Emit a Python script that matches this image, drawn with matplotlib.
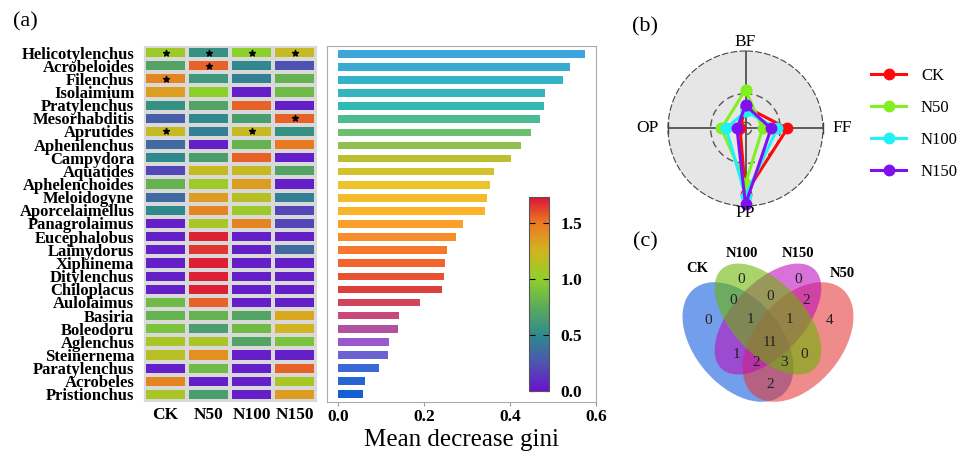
import numpy as np
import matplotlib
matplotlib.use('Agg')
import matplotlib.pyplot as plt
from matplotlib.colors import LinearSegmentedColormap, Normalize
from matplotlib.cm import ScalarMappable
from matplotlib.patches import Ellipse

plt.rcParams['font.family'] = 'serif'
plt.rcParams['font.serif'] = ['Liberation Serif', 'DejaVu Serif']

# ---- data ----
genera = ['Helicotylenchus', 'Acrobeloides', 'Filenchus', 'Isolaimium', 'Pratylenchus',
          'Mesorhabditis', 'Aprutides', 'Aphenlenchus', 'Campydora', 'Aquatides',
          'Aphelenchoides', 'Meloidogyne', 'Aporcelaimellus', 'Panagrolaimus',
          'Eucephalobus', 'Laimydorus', 'Xiphinema', 'Ditylenchus', 'Chiloplacus',
          'Aulolaimus', 'Basiria', 'Boleodoru', 'Aglenchus', 'Steinernema',
          'Paratylenchus', 'Acrobeles', 'Pristionchus']
groups = ['CK', 'N50', 'N100', 'N150']
heat_ck = [1.05, 0.70, 1.45, 1.35, 0.55, 0.30, 1.20, 0.35, 0.50, 0.20, 0.80, 0.35, 0.50, 0.05,
           0.05, 0.05, 0.05, 0.05, 0.05, 0.85, 0.80, 0.90, 1.10, 1.15, 0.05, 1.45, 1.10]
heat_n50 = [0.55, 1.55, 0.60, 1.00, 0.70, 0.50, 0.45, 0.05, 0.65, 1.20, 1.05, 1.35, 1.45, 1.10,
            1.70, 1.65, 1.70, 1.70, 1.70, 1.55, 0.80, 0.65, 1.10, 1.40, 0.85, 0.05, 0.65]
heat_n100 = [1.00, 0.50, 0.45, 0.05, 1.55, 0.65, 1.20, 0.80, 1.55, 1.20, 1.35, 1.15, 1.05, 1.45,
             0.05, 0.05, 0.05, 0.05, 0.05, 0.05, 0.70, 0.85, 0.70, 0.05, 0.05, 0.05, 0.05]
heat_n150 = [1.20, 0.25, 0.80, 0.85, 0.05, 1.55, 0.55, 1.50, 0.05, 0.70, 0.05, 0.45, 0.20, 0.20,
             0.05, 0.35, 0.05, 0.05, 0.05, 0.05, 1.30, 1.25, 0.90, 0.05, 1.55, 1.10, 1.35]
star_rows = [0, 0, 0, 0, 1, 2, 5, 6, 6]
star_cols = [0, 1, 2, 3, 1, 0, 3, 0, 2]
gini = [0.574, 0.539, 0.524, 0.481, 0.478, 0.469, 0.449, 0.426, 0.403, 0.363, 0.353, 0.347,
        0.341, 0.291, 0.275, 0.253, 0.249, 0.246, 0.242, 0.191, 0.142, 0.140, 0.119, 0.115,
        0.095, 0.062, 0.058]

radar_cats = ['BF', 'FF', 'PP', 'OP']
radar_ck = [0.28, 0.54, 0.84, 0.07]
radar_n50 = [0.50, 0.22, 0.71, 0.31]
radar_n100 = [0.22, 0.41, 0.87, 0.25]
radar_n150 = [0.30, 0.33, 0.98, 0.11]

venn_sets = ['CK', 'N100', 'N150', 'N50']
venn_regions = ['CK', 'N100', 'N150', 'N50', 'CK&N100', 'N100&N150', 'N150&N50', 'CK&N150',
                'N100&N50', 'CK&N50', 'CK&N100&N150', 'N100&N150&N50', 'CK&N150&N50',
                'CK&N100&N50', 'CK&N100&N150&N50']
venn_counts = [0, 0, 0, 4, 0, 0, 2, 1, 0, 2, 1, 1, 2, 3, 11]

# ---- styles ----
heat_cmap = LinearSegmentedColormap.from_list('heat', [
    (0.0, '#6b12cf'), (0.25 / 1.73, '#4d55b0'), (0.5 / 1.73, '#2e8a8c'),
    (0.75 / 1.73, '#5cab5a'), (1.0 / 1.73, '#8fd02a'), (1.25 / 1.73, '#d2b420'),
    (1.5 / 1.73, '#ea7a22'), (1.0, '#dc1438')])
bar_cmap = LinearSegmentedColormap.from_list('bars', [
    '#3ea5dc', '#33b3c6', '#30b8b4', '#6abf70', '#bcc02c', '#ecc42c', '#fcb42c',
    '#f98c2c', '#f2642c', '#dc4038', '#c84878', '#9c58cc', '#3c6ad8', '#1560d0'])

W, H = 969, 455
fig = plt.figure(figsize=(W / 100, H / 100), dpi=100)


def px_axes(x0, y0, x1, y1, **kw):
    return fig.add_axes([x0 / W, 1 - y1 / H, (x1 - x0) / W, (y1 - y0) / H], **kw)


# (a) heatmap
ax_h = px_axes(144, 46, 316, 401)
mat = np.column_stack([heat_ck, heat_n50, heat_n100, heat_n150])
ax_h.pcolormesh(mat, cmap=heat_cmap, vmin=0, vmax=1.73, edgecolors='#d9d9d9', linewidth=1.6)
ax_h.scatter(np.array(star_cols) + 0.5, np.array(star_rows) + 0.5, marker='*', s=20,
             color='black', zorder=3)
ax_h.set_xlim(0, 4)
ax_h.set_ylim(len(genera), 0)
ax_h.set_xticks(np.arange(4) + 0.5, groups, fontsize=12.5, fontweight='bold')
ax_h.set_yticks(np.arange(len(genera)) + 0.5, genera, fontsize=12, fontweight='bold')
ax_h.tick_params(length=0)
ax_h.tick_params(axis='y', pad=7)
ax_h.tick_params(axis='x', pad=4)
for s in ax_h.spines.values():
    s.set_color('#d9d9d9')

# (a) bars
ax_b = px_axes(327, 46, 596, 402)
yy = np.arange(len(gini))
ax_b.barh(yy, gini, height=0.58, color=bar_cmap(np.linspace(0, 1, len(gini))))
ax_b.set_ylim(len(gini) - 0.4, -0.6)
ax_b.set_xlim(-0.026, 0.6)
ax_b.set_xticks([0, 0.2, 0.4, 0.6], ['0.0', '0.2', '0.4', '0.6'], fontsize=12.5,
                fontweight='bold')
ax_b.set_yticks([])
ax_b.set_xlabel('Mean decrease gini', fontsize=18, labelpad=3)
ax_b.tick_params(axis='x', length=3, color='#999999', pad=2)
for s in ax_b.spines.values():
    s.set_color('#aaaaaa')

cax = px_axes(529, 197, 549, 391)
cb = fig.colorbar(ScalarMappable(norm=Normalize(0, 1.73), cmap=heat_cmap), cax=cax,
                  ticks=[0, 0.5, 1.0, 1.5])
cb.ax.set_yticklabels(['0.0', '0.5', '1.0', '1.5'], fontsize=12.5, fontweight='bold')
cb.ax.tick_params(direction='in', left=True, right=True, length=4, pad=8)
cb.outline.set_edgecolor('#555555')

# (b) radar
ax_r = px_axes(668, 51, 823, 206, projection='polar')
ax_r.set_theta_zero_location('N')
ax_r.set_theta_direction(-1)
angles = np.arange(len(radar_cats)) * 2 * np.pi / len(radar_cats)
ang_c = np.append(angles, angles[0])
for vals, col, lab in [(radar_ck, '#ff0a0a', 'CK'), (radar_n50, '#80f020', 'N50'),
                       (radar_n100, '#20f0f8', 'N100'), (radar_n150, '#8010f0', 'N150')]:
    ax_r.plot(ang_c, np.append(vals, vals[0]), color=col, lw=2.2, marker='o', ms=7.5,
              label=lab, clip_on=False, zorder=3)
ax_r.set_facecolor('#e6e6e6')
ax_r.set_ylim(0, 1)
ax_r.set_yticks([0.08, 0.45])
ax_r.set_yticklabels([])
ax_r.yaxis.grid(True, linestyle=(0, (5, 3)), color='#555555', lw=1)
ax_r.xaxis.grid(True, linestyle='-', color='#444444', lw=1.2)
ax_r.spines['polar'].set_linestyle((0, (5, 3)))
ax_r.spines['polar'].set_color('#444444')
ax_r.set_xticks(angles)
ax_r.set_xticklabels([])
ax_r.tick_params(axis='x', length=0)
ax_r.plot([np.pi / 2, 3 * np.pi / 2], [1, 1], ls='none', marker='|', ms=8, color='#444444',
          clip_on=False)
lab_r = [1.11, 1.25, 1.09, 1.27]
for a, r, name in zip(angles, lab_r, radar_cats):
    ax_r.text(a, r, name, fontsize=12.5, ha='center', va='center')

handles, labels = ax_r.get_legend_handles_labels()
fig.legend(handles, labels, loc='upper left', bbox_to_anchor=(871 / W, 1 - 68 / H),
           frameon=False, fontsize=12, handlelength=2.1, handletextpad=0.9,
           labelspacing=0.95, borderpad=0, borderaxespad=0)

# (c) venn
ax_v = px_axes(660, 230, 880, 420)
ax_v.set_xlim(660, 880)
ax_v.set_ylim(420, 230)
ax_v.axis('off')
ell_style = {'CK': ((738, 342), 138, 87, 50, '#0d58de'),
             'N50': ((798, 342), 138, 87, -50, '#e63737'),
             'N150': ((768, 319), 136, 72, -47, '#bc0dbc'),
             'N100': ((768, 319), 136, 72, 47, '#6bb400')}
for name in ['CK', 'N50', 'N150', 'N100']:
    xy, w, h, ang, col = ell_style[name]
    ax_v.add_patch(Ellipse(xy, w, h, angle=ang, facecolor=col, alpha=0.58, lw=0))
set_pos = {'CK': (697, 268), 'N100': (742, 253), 'N150': (798, 253), 'N50': (842, 273)}
for name in venn_sets:
    ax_v.text(*set_pos[name], name, fontsize=10.5, fontweight='bold', ha='center',
              va='center')
region_pos = [(708, 320), (741, 279), (798, 279), (830, 320), (733, 300), (770, 296),
              (806, 300), (736, 354), (804, 354), (770, 384), (750, 319), (789, 319),
              (756, 362), (784, 362), (770, 342)]
for (x, y), n in zip(region_pos, venn_counts):
    ax_v.text(x, y, str(n), fontsize=11, ha='center', va='center', color='#222222')

fig.text(13 / W, 1 - 22 / H, '(a)', fontsize=16, va='center')
fig.text(632 / W, 1 - 27 / H, '(b)', fontsize=16, va='center')
fig.text(633 / W, 1 - 242 / H, '(c)', fontsize=16, va='center')

fig.savefig('out.png', dpi=100)
